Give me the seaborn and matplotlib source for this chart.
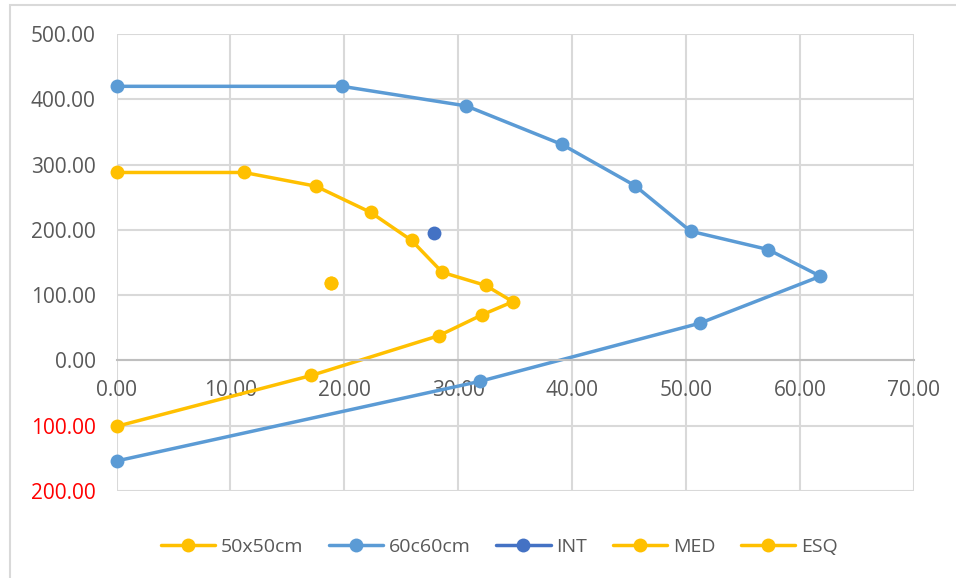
import pandas as pd
import matplotlib
matplotlib.use('Agg')
import matplotlib.pyplot as plt
import seaborn as sns
from matplotlib.patches import Rectangle
from matplotlib.ticker import FuncFormatter, MultipleLocator

# data
x_50 = [0.0, 11.2, 17.5, 22.3, 25.9, 28.6, 32.4, 34.8, 32.1, 28.3, 17.1, 0.0]
y_50 = [288, 288, 267, 227, 184, 135, 115, 90, 70, 38, -23, -101]
x_60 = [0.0, 19.8, 30.7, 39.1, 45.5, 50.4, 57.2, 61.8, 51.2, 31.9, 0.0]
y_60 = [420, 420, 390, 331, 268, 198, 170, 129, 57, -32, -154]
x_int = [27.9]
y_int = [196]
x_med = [18.8]
y_med = [118]
x_esq = [18.8]
y_esq = [118]

yellow = '#FFC000'
blue = '#5B9BD5'
dark_blue = '#4472C4'
text_col = '#595959'

sns.set_style('white')
plt.rcParams['font.family'] = ['Open Sans', 'DejaVu Sans']

fig = plt.figure(figsize=(9.56, 5.78), dpi=100)
ax = fig.add_axes([0.1219, 0.1505, 0.834, 0.7905])

# outer chart border
fig.patches.append(Rectangle((10 / 956, -0.05), 1.1, 1 - 5 / 578 + 0.05,
                             transform=fig.transFigure, fill=False,
                             edgecolor='#D9D9D9', linewidth=1.5))

series = [
    ('50x50cm', x_50, y_50, yellow),
    ('60c60cm', x_60, y_60, blue),
    ('INT', x_int, y_int, dark_blue),
    ('MED', x_med, y_med, yellow),
    ('ESQ', x_esq, y_esq, yellow),
]
for name, xs, ys, col in series:
    df = pd.DataFrame({'x': xs, 'y': ys})
    sns.lineplot(data=df, x='x', y='y', sort=False, estimator=None, ax=ax,
                 color=col, linewidth=2.5, marker='o', markersize=10,
                 markeredgewidth=0, label=name, clip_on=False)

ax.set_xlim(0, 70)
ax.set_ylim(-200, 500)
ax.xaxis.set_major_locator(MultipleLocator(10))
ax.yaxis.set_major_locator(MultipleLocator(100))
ax.xaxis.set_major_formatter(FuncFormatter(lambda v, p: f'{v:.2f}'))
ax.yaxis.set_major_formatter(FuncFormatter(lambda v, p: f'{abs(v):.2f}'))
ax.grid(True, color='#D9D9D9', linewidth=1.5)
ax.set_axisbelow(True)
for s in ['top', 'right', 'left']:
    ax.spines[s].set_visible(False)
ax.spines['bottom'].set_position(('data', 0))
ax.spines['bottom'].set_color('#BFBFBF')
ax.spines['bottom'].set_linewidth(1.5)
ax.tick_params(axis='both', length=0, labelsize=15, labelcolor=text_col)
ax.tick_params(axis='x', pad=14)
ax.tick_params(axis='y', pad=15)
for lbl, v in zip(ax.get_yticklabels(), ax.get_yticks()):
    if v < 0:
        lbl.set_color('red')
ax.set_xlabel('')
ax.set_ylabel('')

ax.legend(loc='upper center', bbox_to_anchor=(0.48, -0.065), ncol=5,
          frameon=False, fontsize=14, labelcolor=text_col,
          handlelength=2.8, columnspacing=1.3, handletextpad=0.3)

fig.savefig('out.png', dpi=100)
